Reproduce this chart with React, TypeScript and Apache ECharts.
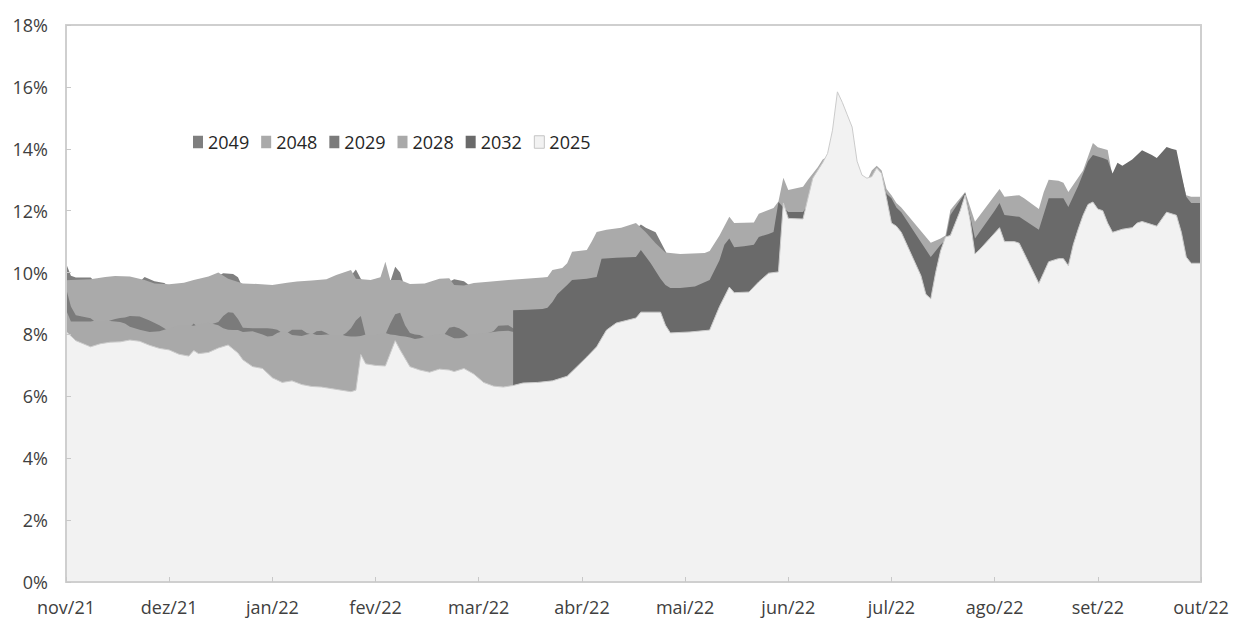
import { useEffect, useRef } from "react";
import * as echarts from "echarts";

// Month labels (one every 21 trading days)
const MONTHS = ["nov/21", "dez/21", "jan/22", "fev/22", "mar/22", "abr/22", "mai/22", "jun/22", "jul/22", "ago/22", "set/22", "out/22"];
const DAYS_PER_MONTH = 21;
const TOTAL_DAYS = 231;

// [trading day, yield %]; "-" = no visible value
const S2049: [number, number | string][] = [
  [0, 10.3], [1, 9.9], [2, 9.84], [5, 9.84], [6, 9.7], [7, "-"],
  [15, 9.7], [16, 9.86], [18, 9.72], [20, 9.66], [21, 9.55], [22, "-"],
  [31, 9.9], [32, 9.98], [34, 9.95], [35, 9.85], [36, 9.5], [37, "-"],
  [58, 9.9], [59, 10.1], [60, 9.8], [61, 9.6], [62, "-"],
  [66, 9.7], [67, 10.19], [68, 10.0], [69, 9.5], [70, "-"],
  [78, 9.7], [79, 9.78], [81, 9.72], [82, 9.6], [83, 9.5], [84, "-"],
  [116, 11.4], [117, 11.55], [118, 11.45], [120, 11.3], [122, 10.7], [123, 10.4],
];

const S2048: [number, number][] = [
  [0, 9.75], [1, 9.76], [5, 9.78], [8, 9.86], [10, 9.89], [13, 9.87], [16, 9.76], [18, 9.65], [21, 9.62],
  [24, 9.67], [26, 9.76], [29, 9.87], [31, 10.0], [33, 9.8], [36, 9.65], [39, 9.63], [42, 9.6], [45, 9.67],
  [47, 9.71], [50, 9.74], [53, 9.78], [55, 9.92], [58, 10.08], [59, 9.8], [62, 9.76], [64, 9.85], [65, 10.35],
  [66, 9.76], [68, 9.76], [70, 9.63], [73, 9.65], [76, 9.8], [78, 9.82], [79, 9.6], [81, 9.58], [83, 9.66],
  [86, 9.7], [90, 9.76], [97, 9.84], [98, 9.86], [99, 10.08], [101, 10.15], [102, 10.3], [103, 10.67],
  [106, 10.73], [107, 11.0], [108, 11.31], [110, 11.38], [113, 11.45], [116, 11.6], [118, 11.3], [120, 10.95],
  [122, 10.65], [125, 10.6], [130, 10.63], [131, 10.7], [133, 11.2], [135, 11.8], [136, 11.6], [140, 11.62],
  [141, 11.9], [144, 12.09], [145, 12.3], [146, 13.06], [147, 12.67], [150, 12.77], [151, 13.0], [153, 13.4],
  [154, 13.65], [155, 13.75], [158, 13.5], [161, 13.4], [162, 13.0], [163, 12.95], [164, 13.3], [165, 13.45],
  [166, 13.3], [167, 12.7], [168, 12.5], [169, 12.25], [170, 12.1], [176, 10.96], [178, 11.1], [179, 11.2],
  [180, 12.02], [183, 12.6], [185, 11.64], [190, 12.7], [191, 12.45], [194, 12.5], [195, 12.4], [198, 12.05],
  [199, 12.6], [200, 13.0], [202, 12.97], [203, 12.9], [204, 12.6], [207, 13.3], [209, 14.19], [210, 14.05],
  [212, 13.96], [213, 13.1], [216, 13.3], [220, 13.5], [224, 13.8], [226, 13.7], [228, 12.5], [229, 12.45],
  [231, 12.45],
];

const DAYS_MID = [0, 1, 2, 5, 6, 8, 10, 11, 12, 13, 15, 17, 19, 20, 21, 23, 25, 26, 27, 29, 31, 32, 33, 34, 35, 36, 38, 40, 41, 42, 43, 44, 45, 46, 48, 49, 50, 51, 52, 53, 54, 56, 57, 58, 59, 60, 61, 63, 65, 66, 67, 68, 69, 70, 71, 72, 73, 75, 77, 78, 79, 80, 81, 82, 85, 87, 88, 90, 92];
const V2029 = [9.5, 8.9, 8.62, 8.52, 8.4, 8.4, 8.5, 8.53, 8.55, 8.6, 8.58, 8.45, 8.3, 8.2, 8.1, 8.2, 8.2, 8.35, 8.2, 8.3, 8.4, 8.6, 8.72, 8.7, 8.5, 8.22, 8.2, 8.2, 8.2, 8.18, 8.15, 8.05, 8.05, 8.15, 8.15, 8.05, 8.0, 8.1, 8.12, 8.05, 7.95, 7.95, 8.05, 8.2, 8.45, 8.6, 7.95, 7.95, 8.0, 8.35, 8.65, 8.7, 8.3, 8.05, 8.0, 7.98, 7.9, 7.95, 8.0, 8.22, 8.25, 8.2, 8.1, 7.95, 8.0, 8.1, 8.28, 8.3, 8.1];
const V2028 = [8.8, 8.42, 8.42, 8.42, 8.45, 8.45, 8.42, 8.4, 8.35, 8.25, 8.15, 8.08, 8.1, 8.15, 8.2, 8.3, 8.3, 8.28, 8.33, 8.38, 8.3, 8.2, 8.15, 8.14, 8.14, 8.08, 8.1, 8.0, 7.93, 7.95, 8.05, 8.1, 8.08, 7.98, 7.95, 8.0, 8.03, 7.98, 7.98, 8.0, 8.0, 8.0, 7.95, 7.93, 7.93, 7.95, 8.0, 8.0, 8.05, 8.0, 7.98, 7.95, 7.93, 7.9, 7.85, 7.88, 7.92, 8.0, 8.02, 7.95, 7.88, 7.88, 7.9, 7.98, 8.05, 8.08, 8.1, 8.12, 8.05];

const S2032: [number, number][] = [
  [91, 8.78], [94, 8.8], [97, 8.82], [98, 8.86], [99, 9.05], [100, 9.3], [102, 9.6], [103, 9.76], [106, 9.8],
  [108, 9.86], [109, 10.45], [112, 10.48], [116, 10.5], [117, 10.73], [119, 10.3], [121, 9.8], [122, 9.6],
  [123, 9.5], [125, 9.5], [128, 9.55], [131, 9.76], [133, 10.4], [134, 10.9], [135, 11.1], [136, 10.82],
  [138, 10.85], [140, 10.9], [141, 11.15], [143, 11.25], [144, 11.31], [145, 12.28], [146, 12.1], [147, 11.96],
  [150, 11.96], [151, 12.2], [153, 12.6], [155, 12.9], [158, 13.0], [161, 12.9], [163, 12.85], [165, 13.0],
  [166, 13.1], [167, 12.55], [168, 12.4], [169, 12.1], [170, 11.95], [176, 10.5], [178, 10.9], [179, 11.05],
  [180, 11.86], [183, 12.57], [185, 11.1], [189, 12.0], [190, 12.25], [191, 11.86], [194, 11.8], [198, 11.38],
  [200, 12.4], [203, 12.4], [204, 12.12], [206, 12.8], [208, 13.6], [209, 13.8], [211, 13.7], [212, 13.64],
  [213, 13.2], [214, 13.55], [215, 13.45], [217, 13.65], [219, 13.95], [221, 13.8], [222, 13.7], [224, 14.06],
  [225, 14.0], [226, 13.96], [227, 13.2], [228, 12.45], [229, 12.25], [231, 12.25],
];

const S2025: [number, number][] = [
  [0, 8.1], [1, 7.95], [2, 7.8], [5, 7.6], [7, 7.7], [9, 7.75], [11, 7.76], [13, 7.82], [15, 7.78], [17, 7.65],
  [19, 7.55], [21, 7.5], [23, 7.36], [25, 7.3], [26, 7.48], [27, 7.38], [29, 7.42], [31, 7.56], [33, 7.66],
  [35, 7.4], [36, 7.18], [38, 6.96], [40, 6.9], [42, 6.6], [44, 6.45], [46, 6.5], [48, 6.38], [50, 6.32],
  [52, 6.3], [54, 6.25], [56, 6.2], [58, 6.15], [59, 6.2], [60, 7.35], [61, 7.05], [63, 7.0], [65, 6.98],
  [67, 7.8], [68, 7.5], [70, 6.96], [72, 6.85], [74, 6.78], [76, 6.88], [78, 6.85], [79, 6.8], [81, 6.9],
  [83, 6.72], [85, 6.45], [87, 6.33], [89, 6.3], [91, 6.35], [93, 6.43], [96, 6.45], [99, 6.5], [102, 6.65],
  [104, 6.96], [106, 7.27], [108, 7.6], [110, 8.14], [112, 8.37], [114, 8.45], [116, 8.53], [117, 8.72],
  [121, 8.72], [122, 8.3], [123, 8.05], [127, 8.08], [131, 8.14], [133, 8.9], [135, 9.53], [136, 9.35],
  [139, 9.37], [141, 9.7], [143, 9.98], [145, 10.02], [146, 12.25], [147, 11.75], [150, 11.73], [151, 12.4],
  [152, 13.05], [154, 13.55], [155, 13.85], [156, 14.6], [157, 15.84], [158, 15.5], [159, 15.1], [160, 14.7],
  [161, 13.6], [162, 13.15], [163, 13.05], [164, 13.1], [165, 13.38], [166, 13.2], [167, 12.4], [168, 11.6],
  [169, 11.5], [170, 11.3], [172, 10.6], [174, 9.9], [175, 9.3], [176, 9.15], [177, 10.0], [178, 10.7],
  [179, 11.15], [180, 11.2], [182, 12.0], [183, 12.5], [184, 11.7], [185, 10.6], [186, 10.75], [188, 11.1],
  [190, 11.45], [191, 11.0], [193, 11.0], [194, 10.95], [196, 10.3], [198, 9.65], [199, 10.0], [200, 10.35],
  [202, 10.45], [203, 10.45], [204, 10.22], [205, 10.9], [206, 11.4], [207, 11.85], [208, 12.2], [209, 12.28],
  [210, 12.05], [211, 12.0], [212, 11.6], [213, 11.3], [215, 11.4], [217, 11.45], [218, 11.6], [219, 11.65],
  [221, 11.55], [222, 11.5], [224, 11.95], [226, 11.85], [227, 11.3], [228, 10.5], [229, 10.3], [231, 10.3],
];

const COLORS: Record<string, string> = {
  "2049": "#7f7f7f",
  "2048": "#aaaaaa",
  "2029": "#7b7b7b",
  "2028": "#a9a9a9",
  "2032": "#6a6a6a",
  "2025": "#f2f2f2",
};

const FONT = "'Open Sans', 'Noto Sans', sans-serif";

export default function App() {
  const ref = useRef<HTMLDivElement>(null);

  useEffect(() => {
    if (!ref.current) return;
    const chart = echarts.init(ref.current, undefined, { renderer: "svg" });

    const s2029 = DAYS_MID.map((d, i) => [d, V2029[i]]);
    const s2028 = DAYS_MID.map((d, i) => [d, V2028[i]]);

    const mk = (name: string, data: any[], line?: string) => ({
      name,
      type: "line",
      data,
      symbol: "none",
      showSymbol: false,
      connectNulls: false,
      silent: true,
      lineStyle: line ? { color: line, width: 1 } : { width: 0 },
      itemStyle: { color: COLORS[name] },
      areaStyle: { color: COLORS[name], opacity: 1 },
      emphasis: { disabled: true },
    });

    const borderColor = "#cfcfcf";

    chart.setOption({
      animation: false,
      backgroundColor: "#ffffff",
      grid: { left: 66, right: 32, top: 25, bottom: 37, containLabel: false },
      legend: {
        left: 188,
        top: 128,
        icon: "rect",
        itemWidth: 10,
        itemHeight: 12.5,
        itemGap: 12,
        selectedMode: false,
        lineStyle: { width: 0 },
        textStyle: { fontFamily: FONT, fontSize: 18, color: "#262626" },
        data: ["2049", "2048", "2029", "2028", "2032", "2025"].map((n) =>
          n === "2025"
            ? { name: n, itemStyle: { borderColor: "#c4c4c4", borderWidth: 1 } }
            : { name: n }
        ),
      },
      xAxis: [
        {
          type: "value",
          min: 0,
          max: TOTAL_DAYS,
          interval: DAYS_PER_MONTH,
          z: 10,
          axisLine: { show: true, onZero: false, lineStyle: { color: borderColor, width: 2 } },
          axisTick: { show: true, inside: true, length: 5, lineStyle: { color: "#c8c8c8" } },
          splitLine: { show: false },
          axisLabel: {
            margin: 16,
            fontFamily: FONT,
            fontSize: 18,
            color: "#404040",
            formatter: (v: number) => MONTHS[Math.round(v / DAYS_PER_MONTH)] ?? "",
          },
        },
        {
          type: "value",
          position: "top",
          min: 0,
          max: TOTAL_DAYS,
          z: 10,
          axisLine: { show: true, onZero: false, lineStyle: { color: borderColor, width: 2 } },
          axisTick: { show: false },
          axisLabel: { show: false },
          splitLine: { show: false },
        },
      ],
      yAxis: [
        {
          type: "value",
          min: 0,
          max: 18,
          interval: 2,
          z: 10,
          axisLine: { show: true, onZero: false, lineStyle: { color: borderColor, width: 2 } },
          axisTick: { show: true, inside: true, length: 5, lineStyle: { color: "#c8c8c8" } },
          splitLine: { show: false },
          axisLabel: {
            margin: 18,
            fontFamily: FONT,
            fontSize: 18,
            color: "#404040",
            formatter: "{value}%",
          },
        },
        {
          type: "value",
          position: "right",
          min: 0,
          max: 18,
          z: 10,
          axisLine: { show: true, onZero: false, lineStyle: { color: borderColor, width: 2 } },
          axisTick: { show: false },
          axisLabel: { show: false },
          splitLine: { show: false },
        },
      ],
      series: [
        mk("2049", S2049),
        mk("2048", S2048),
        mk("2029", s2029),
        mk("2028", s2028),
        mk("2032", S2032),
        mk("2025", S2025, "#cbcbcb"),
      ],
    });

    return () => chart.dispose();
  }, []);

  return (
    <div
      ref={ref}
      style={{ position: "fixed", left: 0, top: 0, width: 1233, height: 619, background: "#fff" }}
    />
  );
}
